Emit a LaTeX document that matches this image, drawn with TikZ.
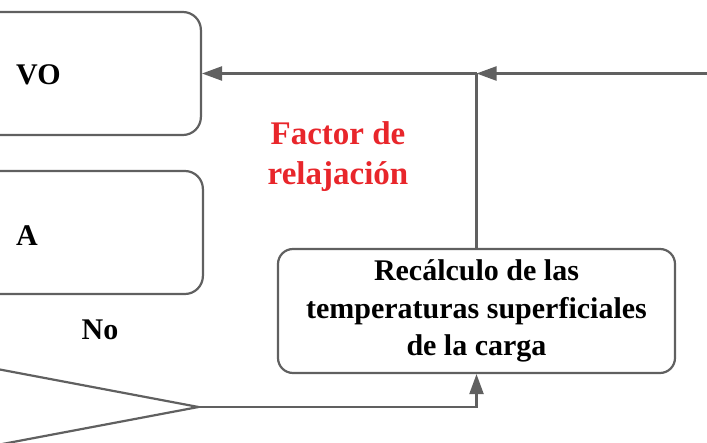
\documentclass[tikz,border=0pt]{standalone}
\usepackage{fontspec}
\setmainfont{Liberation Serif}
\usetikzlibrary{arrows.meta,shapes.geometric,positioning}

\definecolor{linegray}{HTML}{606060}
\definecolor{factorred}{HTML}{E8262B}

\begin{document}
\begin{tikzpicture}[
    x=1pt, y=-1pt,
    box/.style={%
      draw=linegray,
      line width=2.2pt,
      rounded corners=18pt,
      inner sep=0pt,
    },
    decision/.style={%
      draw=linegray,
      line width=2.2pt,
      diamond,
      inner sep=0pt,
    },
    flow/.style={%
      draw=linegray,
      line width=2.2pt,
      -{Triangle[length=20pt,width=14pt]},
    },
    txt/.style={%
      font=\bfseries\fontsize{30}{37.5}\selectfont,
      align=center,
      inner sep=0pt,
    },
  ]

    \useasboundingbox (0,0) rectangle (707,443);
    \clip (0,0) rectangle (707,443);

    \node [box, minimum width=400pt, minimum height=123pt, anchor=east] (VO) at (202,73.5) {};
    \node [box, minimum width=400pt, minimum height=123pt, anchor=east] (A) at (204,232.5) {};
    \node [decision, minimum width=600pt, minimum height=114pt, anchor=east] (dec) at (200,407) {};
    \node [box, rounded corners=15pt, minimum width=397pt, minimum height=124pt] (calc) at (476.5,311) {};

    \node [txt, anchor=west] (voText) at (16,75) {VO};
    \node [txt, anchor=west] (aText) at (16,236) {A};
    \node [txt] (no) at (100,330) {No};
    \node [txt] (calcText) at (calc.center) {Recálculo de las\\temperaturas superficiales\\de la carga};
    \node [txt, text=factorred, font=\bfseries\fontsize{33}{40}\selectfont] (factor) at (338,157) {Factor de\\relajación};

    \coordinate (join) at (calc.north |- VO.east);
    \coordinate (inlet) at (712,73.5);

    \draw [flow] (dec.east) -| (calc.south);
    \draw [draw=linegray, line width=2.2pt] (calc.north) -- (join);
    \draw [flow] (inlet) -- (join);
    \draw [flow] (join) -- (VO.east);
\end{tikzpicture}
\end{document}
